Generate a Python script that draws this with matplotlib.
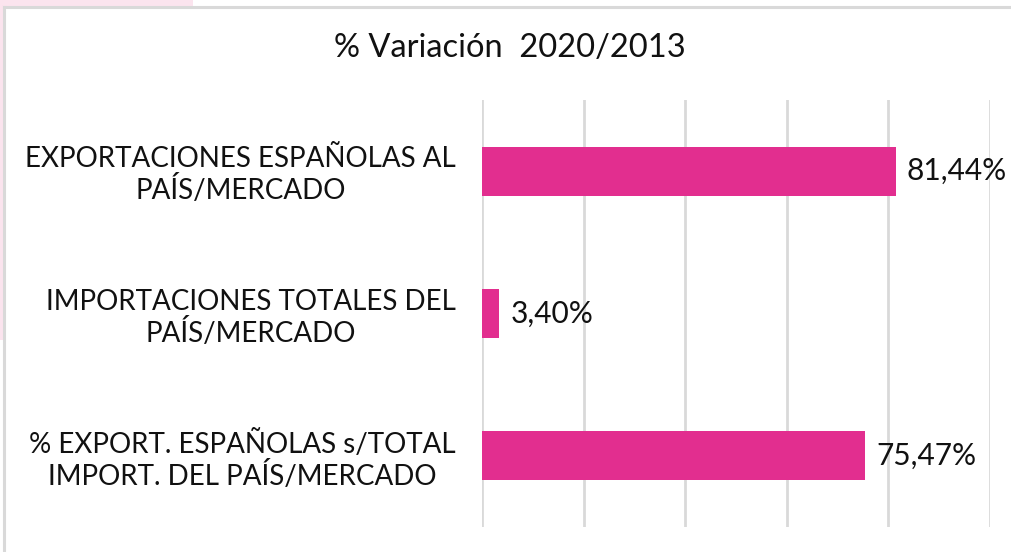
import matplotlib.pyplot as plt
from matplotlib.patches import Rectangle
from matplotlib.lines import Line2D

CATEGORIAS = [
    "EXPORTACIONES ESPAÑOLAS AL\nPAÍS/MERCADO",
    "IMPORTACIONES TOTALES DEL\nPAÍS/MERCADO",
    "% EXPORT. ESPAÑOLAS s/TOTAL\nIMPORT. DEL PAÍS/MERCADO",
]
VARIACION = [81.44, 3.40, 75.47]
ETIQUETAS = ["81,44%", "3,40%", "75,47%"]

plt.rcParams['font.family'] = ['Lato', 'DejaVu Sans']

fig = plt.figure(figsize=(10.12, 5.52), dpi=100)
W, H = 1012, 552

# fondo rosado y marco gris (como en la captura)
fig.patches.append(Rectangle((0, 1 - 340 / H), 193 / W, 340 / H, transform=fig.transFigure,
                             facecolor='#fbe4ee', edgecolor='none', zorder=0))
fig.patches.append(Rectangle((4 / W, 0), 1, 1 - 7 / H, transform=fig.transFigure,
                             facecolor='white', edgecolor='none', zorder=1))
fig.lines.append(Line2D([4 / W, 1], [1 - 7 / H, 1 - 7 / H], transform=fig.transFigure,
                        color='#d9d9d9', linewidth=2.2, zorder=1.5))
fig.lines.append(Line2D([4 / W, 4 / W], [0, 1 - 7 / H], transform=fig.transFigure,
                        color='#d9d9d9', linewidth=2.2, zorder=1.5))

ax = fig.add_axes([482 / W, 25 / H, 508 / W, 427 / H])
ax.set_zorder(2)
ax.patch.set_alpha(0)

y = range(len(CATEGORIAS))
ax.barh(y, VARIACION, height=0.345, color='#e22e8f', zorder=3)
ax.set_xlim(0, 100)
ax.set_ylim(2.5, -0.5)
ax.set_xticks([0, 20, 40, 60, 80, 100])
ax.xaxis.grid(True, color='#d9d9d9', linewidth=2)
ax.tick_params(axis='x', length=0, labelbottom=False)
ax.tick_params(axis='y', length=0, pad=19)
ax.set_yticks(list(y))
ax.set_yticklabels(CATEGORIAS, fontsize=20, linespacing=1.13, color='#111111')
for lbl in ax.get_yticklabels():
    lbl.set_multialignment('center')
for s in ax.spines.values():
    s.set_visible(False)

for i, (v, t) in enumerate(zip(VARIACION, ETIQUETAS)):
    ax.annotate(t, (v, i), xytext=(8, 0), textcoords='offset points',
                va='center', ha='left', fontsize=21.5, color='#111111')

fig.text(510 / W, 1 - 48 / H, "% Variación  2020/2013", ha='center', va='center',
         fontsize=23.5, color='#111111')

plt.savefig("out.png", dpi=100)
